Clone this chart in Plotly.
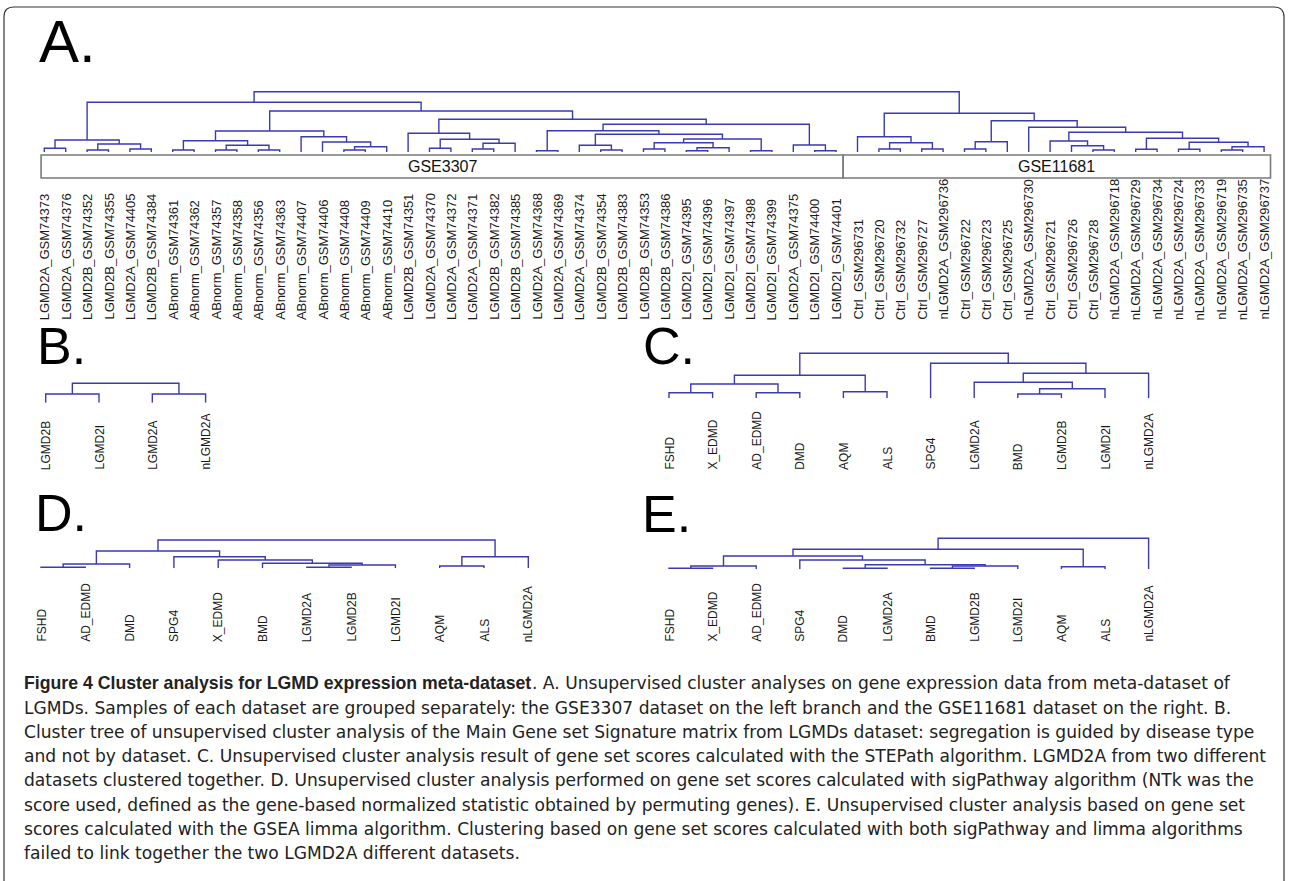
import plotly.graph_objects as go

W, H = 1290, 881

# ---------------- data ----------------
A_labels = [
    "LGMD2A_GSM74373", "LGMD2A_GSM74376", "LGMD2B_GSM74352", "LGMD2B_GSM74355",
    "LGMD2A_GSM74405", "LGMD2B_GSM74384", "ABnorm_GSM74361", "ABnorm_GSM74362",
    "ABnorm_GSM74357", "ABnorm_GSM74358", "ABnorm_GSM74356", "ABnorm_GSM74363",
    "ABnorm_GSM74407", "ABnorm_GSM74406", "ABnorm_GSM74408", "ABnorm_GSM74409",
    "ABnorm_GSM74410", "LGMD2B_GSM74351", "LGMD2A_GSM74370", "LGMD2A_GSM74372",
    "LGMD2A_GSM74371", "LGMD2B_GSM74382", "LGMD2B_GSM74385", "LGMD2A_GSM74368",
    "LGMD2A_GSM74369", "LGMD2A_GSM74374", "LGMD2B_GSM74354", "LGMD2B_GSM74383",
    "LGMD2B_GSM74353", "LGMD2B_GSM74386", "LGMD2I_GSM74395", "LGMD2I_GSM74396",
    "LGMD2I_GSM74397", "LGMD2I_GSM74398", "LGMD2I_GSM74399", "LGMD2A_GSM74375",
    "LGMD2I_GSM74400", "LGMD2I_GSM74401",
    "Ctrl_GSM296731", "Ctrl_GSM296720", "Ctrl_GSM296732", "Ctrl_GSM296727",
    "nLGMD2A_GSM296736", "Ctrl_GSM296722", "Ctrl_GSM296723", "Ctrl_GSM296725",
    "nLGMD2A_GSM296730", "Ctrl_GSM296721", "Ctrl_GSM296726", "Ctrl_GSM296728",
    "nLGMD2A_GSM296718", "nLGMD2A_GSM296729", "nLGMD2A_GSM296734", "nLGMD2A_GSM296724",
    "nLGMD2A_GSM296733", "nLGMD2A_GSM296719", "nLGMD2A_GSM296735", "nLGMD2A_GSM296737",
]
A_datasets = ["GSE3307", "GSE11681"]
A_dataset_sizes = [38, 20]

# merge trees: (height, left, right); integers are leaf positions (1-based)
A_left_1_6 = (12.0, (3.7, 1, 2), (8.0, (2.0, 3, 4), (3.0, 5, 6)))
A_left_7_17 = (21.0, (11.3, (2.0, 7, 8), (6.7, (2.0, 9, 10), (2.0, 11, 12))),
               (15.3, 13, (10.0, 14, (5.3, (2.0, 15, 16), 17))))
A_left_18_23 = (18.7, 18, (12.7, (3.7, 19, 20), (8.7, (3.0, 21, 22), 23)))
A_left_24_35 = (21.3, (1.3, 24, 25),
                (17.7, (6.7, 26, (2.0, 27, 28)),
                 (13.0, (9.3, (3.0, 29, 30), (4.3, (1.3, 31, 32), 33)), (1.3, 34, 35))))
A_left_36_38 = (7.0, 36, (1.3, 37, 38))
A_left = (49.7, A_left_1_6,
          (41.0, A_left_7_17, (32.7, A_left_18_23, (27.7, A_left_24_35, A_left_36_38))))
A_right_39_43 = (15.3, 39, (9.3, (3.0, 40, 41), (3.0, 42, 43)))
A_right_44_46 = (10.3, (3.0, 44, 45), 46)
A_right_48_51 = (11.0, 48, (6.3, 49, (2.0, 50, 51)))
A_right_52_58 = (13.7, (2.7, 52, 53), (9.7, (2.7, 54, 55), (5.3, (2.0, 56, 57), 58)))
A_right = (38.7, A_right_39_43,
           (31.3, A_right_44_46, (24.7, 47, (19.7, A_right_48_51, A_right_52_58))))
A_tree = (60.3, A_left, A_right)

B_labels = ["LGMD2B", "LGMD2I", "LGMD2A", "nLGMD2A"]
B_tree = (19.4, (8.7, 1, 2), (8.7, 3, 4))

C_labels = ["FSHD", "X_EDMD", "AD_EDMD", "DMD", "AQM", "ALS",
            "SPG4", "LGMD2A", "BMD", "LGMD2B", "LGMD2I", "nLGMD2A"]
C_tree = (45.0,
          (23.0, (14.3, (5.6, 1, 2), (5.6, 3, 4)), (6.6, 5, 6)),
          (35.0, 7, (25.0, (16.0, 8, (9.6, (4.3, 9, 10), 11)), 12)))

D_labels = ["FSHD", "AD_EDMD", "DMD", "SPG4", "X_EDMD", "BMD",
            "LGMD2A", "LGMD2B", "LGMD2I", "AQM", "ALS", "nLGMD2A"]
D_tree = (28.3,
          (17.3, (4.3, (1.0, 1, 2), 3),
           (11.6, 4, (8.3, 5, (5.0, 6, (3.3, (1.0, 7, 8), 9))))),
          (11.6, (2.3, 10, 11), 12))

E_labels = ["FSHD", "X_EDMD", "AD_EDMD", "SPG4", "DMD", "LGMD2A",
            "BMD", "LGMD2B", "LGMD2I", "AQM", "ALS", "nLGMD2A"]
E_tree = (31.0,
          (20.0, (13.3, (3.3, (1.0, 1, 2), 3),
                  (9.3, 4, (4.6, (1.0, 5, 6), (3.3, (1.0, 7, 8), 9)))),
           (2.6, 10, 11)),
          12)

caption_bold = "Figure 4 Cluster analysis for LGMD expression meta-dataset"
caption_lines = [
    ". A. Unsupervised cluster analyses on gene expression data from meta-dataset of",
    "LGMDs. Samples of each dataset are grouped separately: the GSE3307 dataset on the left branch and the GSE11681 dataset on the right. B.",
    "Cluster tree of unsupervised cluster analysis of the Main Gene set Signature matrix from LGMDs dataset: segregation is guided by disease type",
    "and not by dataset. C. Unsupervised cluster analysis result of gene set scores calculated with the STEPath algorithm. LGMD2A from two different",
    "datasets clustered together. D. Unsupervised cluster analysis performed on gene set scores calculated with sigPathway algorithm (NTk was the",
    "score used, defined as the gene-based normalized statistic obtained by permuting genes). E. Unsupervised cluster analysis based on gene set",
    "scores calculated with the GSEA limma algorithm. Clustering based on gene set scores calculated with both sigPathway and limma algorithms",
    "failed to link together the two LGMD2A different datasets.",
]

# ---------------- helpers ----------------
LINE = "#3a3ab4"
FONT = "Liberation Sans, Arial, Helvetica, sans-serif"
CAP_FONT = "DejaVu Sans, Verdana, sans-serif"


def px(x):
    return x / W


def py(y):
    return 1 - y / H


def walk(tree, xs, ys):
    if isinstance(tree, int):
        return float(tree), 0.0
    h, l, r = tree
    xl, hl = walk(l, xs, ys)
    xr, hr = walk(r, xs, ys)
    xs += [xl, xl, xr, xr, None]
    ys += [hl, h, h, hr, None]
    return (xl + xr) / 2.0, h


# panel layout: letter, labels, tree, first-leaf px, spacing px, baseline px, label font, label bottom px
panels = [
    ("A", A_labels, A_tree, 44.3, 21.4, 152.0, 13, 322.0),
    ("B", B_labels, B_tree, 45.7, 53.3, 402.7, 12, 472.0),
    ("C", C_labels, C_tree, 669.0, 43.6, 398.3, 12, 472.0),
    ("D", D_labels, D_tree, 41.0, 44.3, 568.3, 12, 644.0),
    ("E", E_labels, E_tree, 669.0, 43.6, 569.3, 12, 644.0),
]

fig = go.Figure()
annotations = []
shapes = []
layout_axes = {}

for k, (name, labels, tree, x0, dx, base, fs, lab_bottom) in enumerate(panels, start=1):
    n = len(labels)
    xs, ys = [], []
    walk(tree, xs, ys)
    sfx = "" if k == 1 else str(k)
    fig.add_trace(go.Scatter(
        x=xs, y=ys, mode="lines", line=dict(color=LINE, width=1.4),
        xaxis="x" + sfx, yaxis="y" + sfx, hoverinfo="skip", showlegend=False,
    ))
    top_h = tree[0] + 3.0
    left_px = x0 - dx / 2.0
    right_px = x0 + (n - 1) * dx + dx / 2.0
    layout_axes["xaxis" + sfx] = dict(
        domain=[px(left_px), px(right_px)], range=[0.5, n + 0.5],
        visible=False, anchor="y" + sfx, fixedrange=True,
    )
    layout_axes["yaxis" + sfx] = dict(
        domain=[py(base), py(base - top_h)], range=[0, top_h],
        visible=False, anchor="x" + sfx, fixedrange=True,
    )
    for i, lab in enumerate(labels, start=1):
        annotations.append(dict(
            x=i, y=py(lab_bottom), xref="x" + sfx, yref="paper",
            text=lab, textangle=-90, showarrow=False,
            xanchor="center", yanchor="bottom",
            font=dict(family=FONT, size=fs, color="#1a1a1a"),
        ))

# dataset bar of panel A
start = 1
for dname, size in zip(A_datasets, A_dataset_sizes):
    end = start + size - 1
    xa = start - 0.15 if start == 1 else start - 0.67
    xb = end + 0.3 if end == len(A_labels) else end + 0.33
    shapes.append(dict(type="rect", xref="x", yref="paper",
                       x0=xa, x1=xb, y0=py(178), y1=py(155),
                       line=dict(color="#7a7a7a", width=1.6), fillcolor="white", layer="below"))
    annotations.append(dict(x=(xa + xb) / 2, y=py(166.5), xref="x", yref="paper",
                            text=dname, showarrow=False, xanchor="center", yanchor="middle",
                            font=dict(family=FONT, size=16, color="#111")))
    start = end + 1

# panel letters
letters = [("A.", 37, 41, 60), ("B.", 35, 346, 52), ("C.", 641, 346, 52),
           ("D.", 33, 513, 52), ("E.", 640, 514, 52)]
for txt, lx, ly, fs in letters:
    annotations.append(dict(x=px(lx), y=py(ly), xref="paper", yref="paper", text=txt,
                            showarrow=False, xanchor="left", yanchor="middle",
                            font=dict(family=FONT, size=fs, color="#000")))

# caption
CAP_SIZE = 17.1
for i, line in enumerate(caption_lines):
    y = py(683.3 + i * 24.25)
    if i == 0:
        annotations.append(dict(x=px(22), y=y, xref="paper", yref="paper",
                                text="<b>" + caption_bold + "</b>", showarrow=False,
                                xanchor="left", yanchor="middle",
                                font=dict(family=FONT, size=17.7, color="#222")))
        annotations.append(dict(x=px(530), y=y, xref="paper", yref="paper",
                                text=line, showarrow=False, xanchor="left", yanchor="middle",
                                font=dict(family=CAP_FONT, size=CAP_SIZE, color="#222")))
    else:
        annotations.append(dict(x=px(22), y=y, xref="paper", yref="paper",
                                text=line, showarrow=False, xanchor="left", yanchor="middle",
                                font=dict(family=CAP_FONT, size=CAP_SIZE, color="#222")))

# outer rounded frame
r = 10
fx0, fy0, fx1, fy1 = 4, 7, 1284, 895
path = (f"M {px(fx0 + r)},{py(fy0)} L {px(fx1 - r)},{py(fy0)} "
        f"Q {px(fx1)},{py(fy0)} {px(fx1)},{py(fy0 + r)} "
        f"L {px(fx1)},{py(fy1)} L {px(fx0)},{py(fy1)} "
        f"L {px(fx0)},{py(fy0 + r)} Q {px(fx0)},{py(fy0)} {px(fx0 + r)},{py(fy0)}")
shapes.append(dict(type="path", xref="paper", yref="paper", path=path,
                   line=dict(color="#333", width=1.2)))

fig.update_layout(
    width=W, height=H, margin=dict(l=0, r=0, t=0, b=0),
    paper_bgcolor="white", plot_bgcolor="white",
    annotations=annotations, shapes=shapes, showlegend=False,
    **layout_axes,
)

fig.write_html("out.html")
